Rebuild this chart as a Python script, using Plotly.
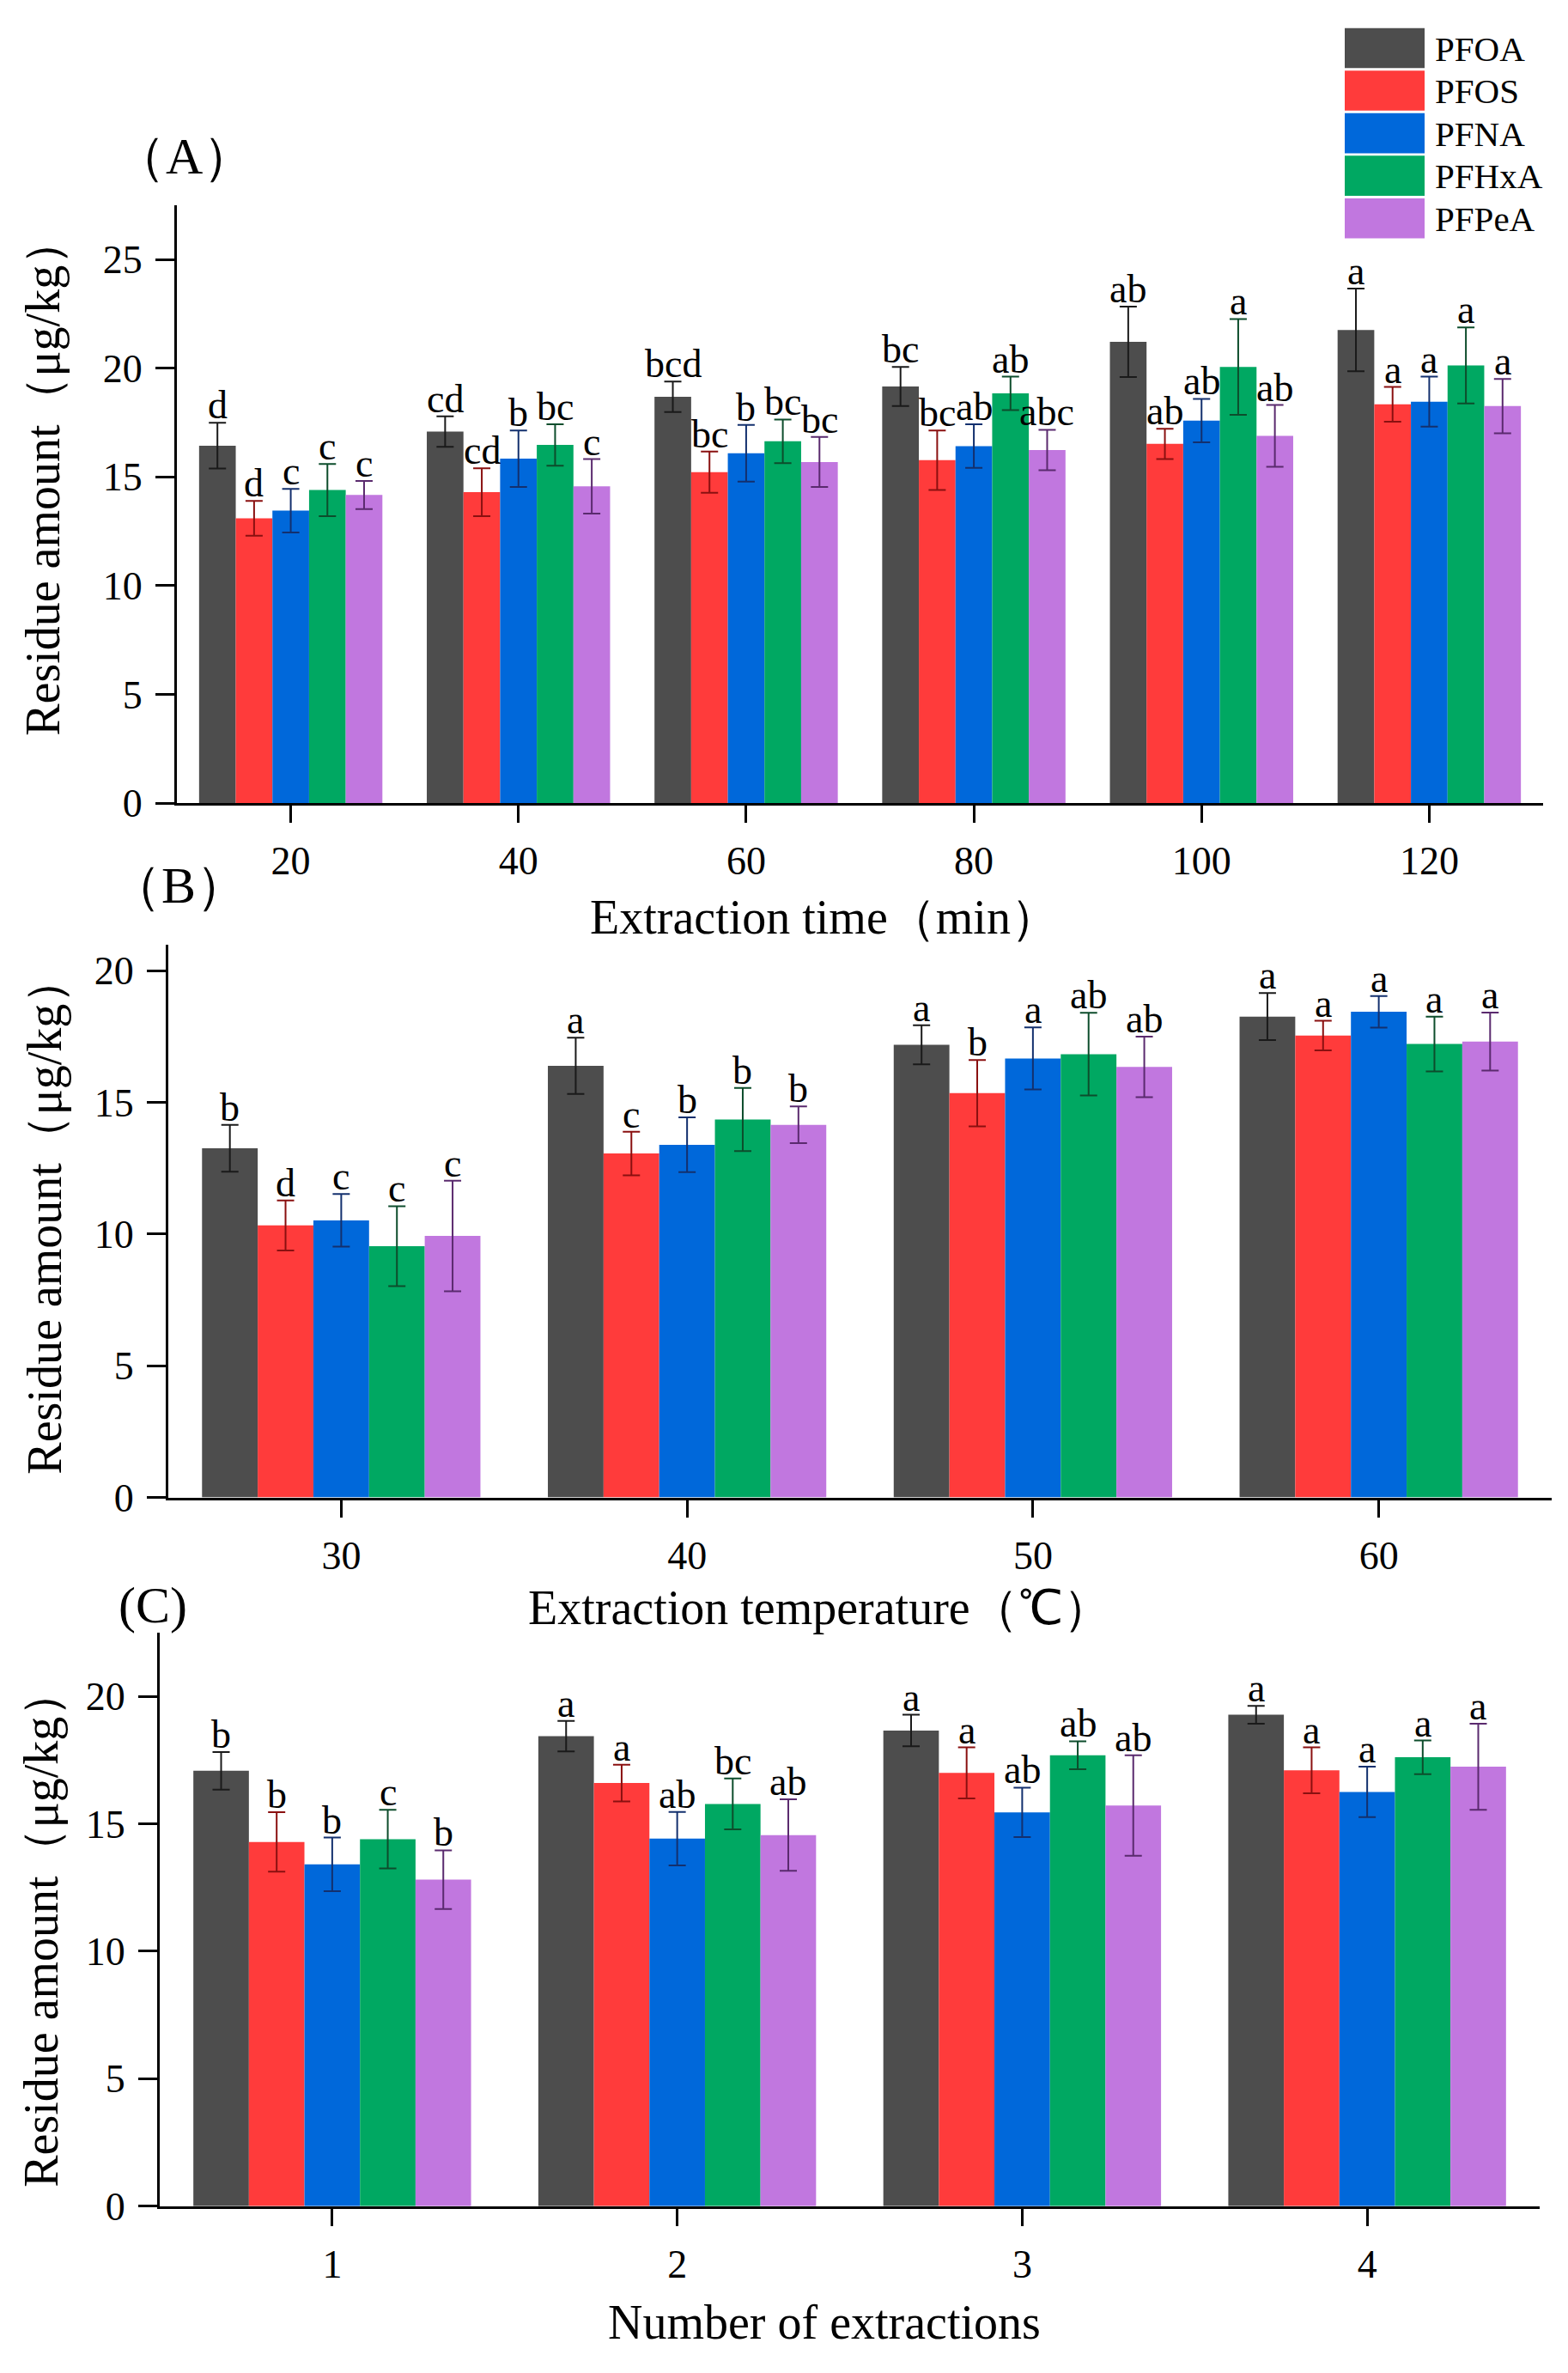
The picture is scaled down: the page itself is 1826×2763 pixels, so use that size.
import plotly.graph_objects as go

W, H = 1826, 2763
SERIF = "Liberation Serif"

compounds = ["PFOA", "PFOS", "PFNA", "PFHxA", "PFPeA"]
bar_colors = ["#4d4d4d", "#ff3b3b", "#0068da", "#00a862", "#c177df"]
err_colors = ["#1a1a1a", "#8a1010", "#13306e", "#0d4d2c", "#5a2a6e"]

# (A) extraction time
time_cats = ["20", "40", "60", "80", "100", "120"]
time_mean = [
    [16.44, 17.09, 18.69, 19.16, 21.21, 21.76],
    [13.10, 14.30, 15.22, 15.77, 16.52, 18.34],
    [13.45, 15.84, 16.09, 16.42, 17.59, 18.46],
    [14.40, 16.47, 16.64, 18.84, 20.06, 20.13],
    [14.17, 14.57, 15.69, 16.24, 16.89, 18.26],
]
time_err = [
    [1.05, 0.70, 0.70, 0.90, 1.62, 1.90],
    [0.80, 1.10, 0.95, 1.37, 0.70, 0.80],
    [1.00, 1.30, 1.30, 1.00, 1.00, 1.15],
    [1.20, 0.95, 1.00, 0.77, 2.20, 1.75],
    [0.65, 1.25, 1.15, 0.93, 1.42, 1.25],
]
time_lab = [
    ["d", "cd", "bcd", "bc", "ab", "a"],
    ["d", "cd", "bc", "bc", "ab", "a"],
    ["c", "b", "b", "ab", "ab", "a"],
    ["c", "bc", "bc", "ab", "a", "a"],
    ["c", "c", "bc", "abc", "ab", "a"],
]

# (B) extraction temperature
temp_cats = ["30", "40", "50", "60"]
temp_mean = [
    [13.26, 16.39, 17.19, 18.26],
    [10.33, 13.06, 15.35, 17.54],
    [10.52, 13.39, 16.67, 18.44],
    [9.54, 14.35, 16.83, 17.22],
    [9.93, 14.15, 16.35, 17.31],
]
temp_err = [
    [0.89, 1.07, 0.74, 0.89],
    [0.95, 0.83, 1.26, 0.56],
    [1.00, 1.04, 1.18, 0.60],
    [1.52, 1.20, 1.57, 1.04],
    [2.10, 0.70, 1.15, 1.10],
]
temp_lab = [
    ["b", "a", "a", "a"],
    ["d", "c", "b", "a"],
    ["c", "b", "a", "a"],
    ["c", "b", "ab", "a"],
    ["c", "b", "ab", "a"],
]

# (C) number of extractions
num_cats = ["1", "2", "3", "4"]
num_mean = [
    [17.08, 18.44, 18.66, 19.28],
    [14.29, 16.60, 17.00, 17.10],
    [13.41, 14.42, 15.45, 16.25],
    [14.40, 15.78, 17.69, 17.61],
    [12.81, 14.56, 15.72, 17.24],
]
num_err = [
    [0.74, 0.60, 0.62, 0.35],
    [1.17, 0.72, 1.00, 0.90],
    [1.05, 1.05, 0.97, 0.99],
    [1.15, 1.00, 0.55, 0.66],
    [1.15, 1.40, 1.97, 1.69],
]
num_lab = [
    ["b", "a", "a", "a"],
    ["b", "a", "a", "a"],
    ["b", "ab", "ab", "a"],
    ["c", "bc", "ab", "a"],
    ["b", "ab", "ab", "a"],
]


def px(x):
    return x / W


def py(y):
    return 1 - y / H


BARGAP = 0.195

panels = [
    dict(cats=time_cats, mean=time_mean, err=time_err, lab=time_lab,
         xd=(198, 1789), yd=(233, 936), ymax=27.5,
         tag="（A）", tagpos=(206, 176),
         xtitle="Extraction time（min）", xtpos=(952, 1070),
         ytpos=(42, 552)),
    dict(cats=temp_cats, mean=temp_mean, err=temp_err, lab=temp_lab,
         xd=(188, 1799), yd=(1102, 1752), ymax=21,
         tag="（B）", tagpos=(200, 1033),
         xtitle="Extraction temperature（℃）", xtpos=(946, 1882),
         ytpos=(44, 1420)),
    dict(cats=num_cats, mean=num_mean, err=num_err, lab=num_lab,
         xd=(178, 1785), yd=(1911, 2585), ymax=22.5,
         tag="(C)", tagpos=(170, 1879),
         xtitle="Number of extractions", xtpos=(952, 2722),
         ytpos=(40, 2258)),
]

fig = go.Figure()
annotations = []
shapes = []
layout_axes = {}

for p_i, p in enumerate(panels):
    n = p_i + 1
    xa = "x" if n == 1 else f"x{n}"
    ya = "y" if n == 1 else f"y{n}"
    for i, name in enumerate(compounds):
        fig.add_trace(go.Bar(
            x=p["cats"], y=p["mean"][i], name=name,
            marker=dict(color=bar_colors[i], line=dict(width=0)),
            error_y=dict(type="data", array=p["err"][i], visible=True,
                         color=err_colors[i], thickness=2, width=10),
            xaxis=xa, yaxis=ya, showlegend=False,
        ))
        w = (1 - BARGAP) / len(compounds)
        for c in range(len(p["cats"])):
            annotations.append(dict(
                x=c + (i - 2) * w, y=p["mean"][i][c] + p["err"][i][c],
                xref=xa, yref=ya, text=p["lab"][i][c], showarrow=False,
                yanchor="bottom", yshift=-7,
                font=dict(family=SERIF, size=46, color="black"),
            ))

    axis_common = dict(showline=True, linewidth=3, linecolor="black",
                       ticks="outside", tickwidth=3, tickcolor="black",
                       showgrid=False, zeroline=False,
                       tickfont=dict(family=SERIF, size=46, color="black"))
    layout_axes["xaxis" if n == 1 else f"xaxis{n}"] = dict(
        axis_common, domain=[px(p["xd"][0]), px(p["xd"][1])],
        anchor=ya, type="category", range=[-0.5, len(p["cats"]) - 0.5],
        ticklen=20, ticklabelstandoff=5)
    layout_axes["yaxis" if n == 1 else f"yaxis{n}"] = dict(
        axis_common, domain=[py(p["yd"][1]), py(p["yd"][0])],
        anchor=xa, range=[0, p["ymax"]], dtick=5, ticklen=22,
        ticklabelstandoff=6)

    annotations.append(dict(
        x=px(p["tagpos"][0]), y=py(p["tagpos"][1]), xref="paper", yref="paper",
        text=p["tag"], showarrow=False, xanchor="center", yanchor="middle",
        font=dict(family=SERIF, size=60, color="black")))
    annotations.append(dict(
        x=px(p["xtpos"][0]), y=py(p["xtpos"][1]), xref="paper", yref="paper",
        text=p["xtitle"], showarrow=False, xanchor="center", yanchor="middle",
        font=dict(family=SERIF, size=56, color="black")))
    annotations.append(dict(
        x=px(p["ytpos"][0]), y=py(p["ytpos"][1]), xref="paper", yref="paper",
        text="Residue amount（μg/kg）", textangle=-90, showarrow=False,
        xanchor="center", yanchor="middle",
        font=dict(family=SERIF, size=56, color="black")))

# legend block, top right
for i, name in enumerate(compounds):
    top = 25 + 50 * i
    shapes.append(dict(type="rect", xref="paper", yref="paper",
                       x0=px(1558), x1=px(1651), y0=py(top + 47), y1=py(top),
                       fillcolor=bar_colors[i], line=dict(width=0)))
    annotations.append(dict(
        x=px(1661), y=py(top + 24), xref="paper", yref="paper", text=name,
        showarrow=False, xanchor="left", yanchor="middle",
        font=dict(family=SERIF, size=41, color="black")))

fig.update_layout(
    width=W, height=H,
    margin=dict(l=0, r=0, t=0, b=0),
    paper_bgcolor="white", plot_bgcolor="white",
    font=dict(family=SERIF, color="black"),
    barmode="group", bargap=BARGAP, bargroupgap=0,
    annotations=annotations, shapes=shapes,
    **layout_axes,
)

fig.write_html("out.html")
